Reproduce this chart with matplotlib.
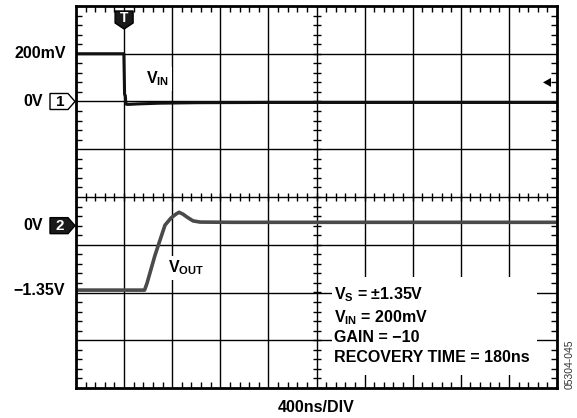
import numpy as np
import matplotlib
matplotlib.use("Agg")
import matplotlib.pyplot as plt
from matplotlib.patches import Polygon, Rectangle
from matplotlib.ticker import MultipleLocator
from matplotlib.transforms import ScaledTranslation, blended_transform_factory

plt.rcParams['font.family'] = ['Liberation Sans', 'DejaVu Sans']
plt.rcParams['mathtext.fontset'] = 'custom'
plt.rcParams['mathtext.rm'] = 'Liberation Sans:bold'
plt.rcParams['mathtext.it'] = 'Liberation Sans:bold'
plt.rcParams['mathtext.bf'] = 'Liberation Sans:bold'

# --- scope settings ---
time_per_div = 400          # ns/div
trigger_time = 400          # ns
ch1_scale, ch1_offset = 0.2, 2.0    # V/div, screen divisions of 0 V
ch2_scale, ch2_offset = 1.0, -0.6
trigger_level = 0.08        # V on channel 1

# --- channel 1: input step (V) ---
vin_t = [0, 398, 404, 410, 414, 420, 440, 520, 700, 1000, 1600, 4000]
vin_v = [0.2, 0.2, 0.03, 0.025, -0.005, -0.012, -0.012, -0.010, -0.007, -0.005, -0.004, -0.004]

# --- channel 2: output recovery (V) ---
vout_t = [0, 570, 590, 615, 657, 699, 740, 790, 830, 857, 890, 923, 973, 1031, 1300, 4000]
vout_v = [-1.35, -1.35, -1.21, -0.99, -0.62, -0.30, 0.01, 0.16, 0.24, 0.28, 0.24, 0.18,
          0.10, 0.075, 0.07, 0.07]

ch1_labels = ["200mV", "0V"]
ch2_labels = ["0V", "\u22121.35V"]
info_lines = [r"$\mathrm{V_S}$ = " + "\u00b11.35V",
              r"$\mathrm{V_{IN}}$ = 200mV",
              "GAIN = \u221210",
              "RECOVERY TIME = 180ns"]

W, H = 577, 418
fig = plt.figure(figsize=(W / 100, H / 100), dpi=100)
L, R, T, B = 76, 557, 6, 388
ax = fig.add_axes([L / W, 1 - B / H, (R - L) / W, (B - T) / H])
ax.set_xlim(0, 10 * time_per_div)
ax.set_ylim(-4, 4)

# graticule
for k in range(1, 10):
    ax.axvline(k * time_per_div, color='black', lw=1.0, zorder=1)
for k in range(-3, 4):
    ax.axhline(k, color='black', lw=1.0, zorder=1)

minor_t = np.arange(0, 10 * time_per_div + 1, time_per_div / 5)
minor_y = np.arange(-4, 4.01, 0.2)
ax.plot(minor_t, np.zeros_like(minor_t), ls='none', marker='|', ms=6, mew=1.0, color='black', zorder=1)
ax.plot(np.full_like(minor_y, 5 * time_per_div), minor_y, ls='none', marker='_', ms=6, mew=1.0,
        color='black', zorder=1)

ax.set_xticks(np.arange(0, 10 * time_per_div + 1, time_per_div))
ax.set_yticks(np.arange(-4, 5, 1))
ax.xaxis.set_minor_locator(MultipleLocator(time_per_div / 5))
ax.yaxis.set_minor_locator(MultipleLocator(0.2))
ax.tick_params(which='both', direction='in', top=True, right=True,
               labelbottom=False, labelleft=False)
ax.tick_params(which='major', length=0)
ax.tick_params(which='minor', length=4, width=1.0, color='black')
for s in ax.spines.values():
    s.set_linewidth(2.0)
    s.set_zorder(5)

# traces
vin_div = ch1_offset + np.array(vin_v) / ch1_scale
vout_div = ch2_offset + np.array(vout_v) / ch2_scale
ax.plot(vin_t, vin_div, color='#111111', lw=2.2, zorder=3, solid_joinstyle='round')
ax.plot(vout_t, vout_div, color='#4a4a4a', lw=2.6, zorder=3, solid_joinstyle='round',
        solid_capstyle='round')

FS = 11.5
bold = dict(fontweight='bold', fontsize=FS)
white_box = dict(facecolor='white', edgecolor='none', pad=2)

ax.text(trigger_time + 0.45 * time_per_div, ch1_offset + 0.48, r"$\mathrm{V_{IN}}$",
        ha='left', va='center', fontsize=FS, zorder=4, bbox=white_box)
ax.text(trigger_time + 1.0 * time_per_div - 35, ch2_offset - 0.88, r"$\mathrm{V_{OUT}}$",
        ha='left', va='center', fontsize=FS, zorder=4, bbox=white_box)

# info block
ax.add_patch(Rectangle((0.532, 0.034), 0.426, 0.257, transform=ax.transAxes,
                       facecolor='white', edgecolor='none', zorder=2))
for line, yb in zip(info_lines, [0.233, 0.173, 0.120, 0.068]):
    ax.text(0.536, yb, line, transform=ax.transAxes, ha='left', va='baseline', zorder=4, **bold)

# left-side level labels
left_tr = blended_transform_factory(fig.transFigure, ax.transData)
ax.text(66 / W, ch1_offset + 0.2 / ch1_scale, ch1_labels[0], transform=left_tr,
        ha='right', va='center', **bold)
ax.text(43 / W, ch1_offset, ch1_labels[1], transform=left_tr, ha='right', va='center', **bold)
ax.text(43 / W, ch2_offset, ch2_labels[0], transform=left_tr, ha='right', va='center', **bold)
ax.text(65 / W, ch2_offset - 1.35 / ch2_scale, ch2_labels[1], transform=left_tr,
        ha='right', va='center', **bold)


def marker(anchor_tr, x, y, verts_px, fc, ec='black'):
    """Draw a pixel-sized polygon anchored at (x, y) in anchor_tr coordinates."""
    tr = fig.dpi_scale_trans + ScaledTranslation(x, y, anchor_tr)
    verts = [(vx / 100, vy / 100) for vx, vy in verts_px]
    fig.add_artist(Polygon(verts, closed=True, transform=tr, facecolor=fc,
                           edgecolor=ec, lw=1.0, clip_on=False, zorder=6))
    return tr


edge_tr = blended_transform_factory(ax.transAxes, ax.transData)
ch_shape = [(-26, -8), (-8, -8), (-1, 0), (-8, 8), (-26, 8)]
tr1 = marker(edge_tr, 0, ch1_offset, ch_shape, 'white')
fig.text(-16 / 100, 0, "1", transform=tr1, ha='center', va='center', fontsize=11,
         fontweight='bold', color='black', zorder=7)
tr2 = marker(edge_tr, 0, ch2_offset, ch_shape, '#1a1a1a')
fig.text(-16 / 100, 0, "2", transform=tr2, ha='center', va='center', fontsize=11,
         fontweight='bold', color='white', zorder=7)

top_tr = blended_transform_factory(ax.transData, ax.transAxes)
trig_shape = [(-9, -5), (9, -5), (9, -17), (0, -23), (-9, -17)]
trT = marker(top_tr, trigger_time, 1, trig_shape, '#1a1a1a')
fig.text(0, -12.5 / 100, "T", transform=trT, ha='center', va='center', fontsize=10,
         fontweight='bold', color='white', zorder=7)

right_tr = blended_transform_factory(ax.transAxes, ax.transData)
arrow_shape = [(-14, 0), (-6, 4.5), (-6, -4.5)]
marker(right_tr, 1, ch1_offset + trigger_level / ch1_scale, arrow_shape, 'black', ec='none')

fig.text(316 / W, 1 - 408 / H, "400ns/DIV", ha='center', va='center', **bold)
fig.text(570 / W, 1 - 364 / H, "05304-045", rotation=90, ha='center', va='center',
         fontsize=7.5, color='#333333')

fig.savefig("out.png", dpi=100)
